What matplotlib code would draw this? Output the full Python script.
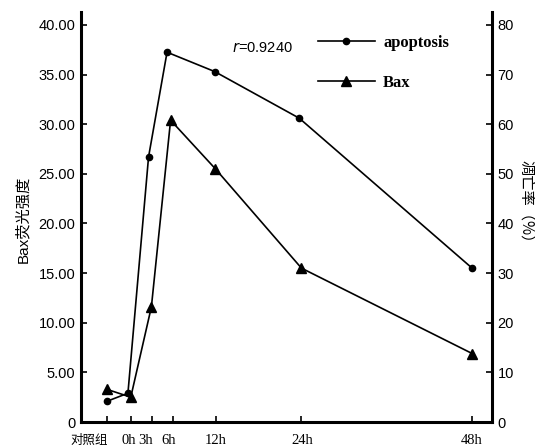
import matplotlib
matplotlib.use("Agg")
import matplotlib.pyplot as plt
import matplotlib.transforms as mtransforms

plt.rcParams['font.family'] = ['Liberation Sans', 'Noto Sans CJK SC', 'DejaVu Sans']

# Data
categories = ['对照组', '0h', '3h', '6h', '12h', '24h', '48h']
tick_pos = [-3.4, 0, 3, 6, 12, 24, 48]
apop_x = [-3.3, -0.4, 2.5, 5.1, 11.8, 23.7, 48]
apoptosis = [4.2, 5.8, 53.4, 74.5, 70.6, 61.2, 31.0]   # % (right axis)
bax_x = [-3.4, 0, 2.9, 5.6, 11.9, 24, 48]
bax = [3.3, 2.5, 11.6, 30.4, 25.5, 15.5, 6.9]          # fluorescence (left axis)
left_ticks = [0, 5, 10, 15, 20, 25, 30, 35, 40]
left_labels = ['0', '5.00', '10.00', '15.00', '20.00', '25.00', '30.00', '35.00', '40.00']
right_ticks = [0, 10, 20, 30, 40, 50, 60, 70, 80]

fig = plt.figure(figsize=(5.35, 4.47), dpi=100)
ax = fig.add_axes([81/535, 1-422/447, (492-81)/535, (422-12)/447])
ax2 = ax.twinx()

ax.set_xlim(-7.0, 50.8)
ax.set_ylim(0, 41.3)
ax2.set_ylim(0, 82.6)

lb, = ax.plot(bax_x, bax, color='black', lw=1.2, marker='^', ms=7, label='Bax')
la, = ax2.plot(apop_x, apoptosis, color='black', lw=1.2, marker='o', ms=4.5, label='apoptosis')

for a in (ax, ax2):
    a.spines['top'].set_visible(False)
    for s in ('left', 'right', 'bottom'):
        a.spines[s].set_linewidth(2.2)
ax.spines['right'].set_visible(False)
ax2.spines['left'].set_visible(False)
ax2.spines['bottom'].set_visible(False)

ax.set_yticks(left_ticks)
ax.set_yticklabels(left_labels, fontsize=10.5)
ax2.set_yticks(right_ticks)
ax2.set_yticklabels([str(t) for t in right_ticks], fontsize=10.5)
ax.set_xticks(tick_pos)
ax.set_xticklabels(categories, fontsize=10.5, family=['Liberation Serif', 'Noto Sans CJK SC'])
ax.tick_params(axis='both', direction='in', length=4, width=1.2, pad=4)
ax2.tick_params(axis='y', direction='in', length=4, width=1.2, pad=4)
ax.tick_params(axis='x', pad=9)

offsets = [-17, -2, -7, -5, 0, 1, 0]
for lab, off in zip(ax.get_xticklabels(), offsets):
    lab.set_transform(lab.get_transform() + mtransforms.ScaledTranslation(off/100, 0, fig.dpi_scale_trans))
ax.get_xticklabels()[0].set_fontsize(9)

fig.text(23/535, 1-219/447, 'Bax荧光强度', rotation=90, ha='center', va='center', fontsize=11,
         family=['Liberation Sans', 'Noto Sans CJK SC'])
fig.text(526/535, 1-205/447, '凋亡率（%）', rotation=270, ha='center', va='center', fontsize=11,
         family=['Noto Sans CJK SC', 'DejaVu Sans'])

fig.text(232/535, 1-48/447, r'$\mathit{r}$=0.9240', ha='left', va='center', fontsize=10.5)
leg = ax.legend(handles=[la, lb], loc='upper left', bbox_to_anchor=(303/535, 1-20/447),
                bbox_transform=fig.transFigure, frameon=False, handlelength=3.4,
                labelspacing=1.45, handletextpad=0.5,
                prop={'family': 'Liberation Serif', 'size': 12, 'weight': 'bold'})

fig.savefig('out.png', dpi=100)
